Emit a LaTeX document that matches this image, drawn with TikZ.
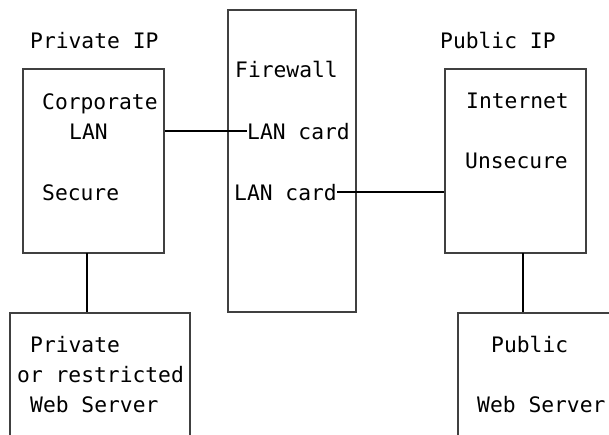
\documentclass[tikz,border=0pt]{standalone}
\usepackage{fontspec}
\setmainfont{DejaVu Sans Mono}
\usetikzlibrary{calc}

\begin{document}
\begin{tikzpicture}[x=1pt, y=-1pt,
        box/.style={draw=black!75, line width=2pt, inner sep=0pt},
        lbl/.style={anchor=base west, inner sep=0pt,
            font=\fontsize{21.3}{24}\selectfont},
        wire/.style={draw, line width=1.2pt}]
            \useasboundingbox (0, 0) rectangle (609, 434);
            \clip (0, 0) rectangle (609, 434);

            % boxes
            \node[box, minimum width=141, minimum height=184] (corp) at (93.5, 161) {};
            \node[box, minimum width=128, minimum height=302] (fw) at (292, 161) {};
            \node[box, minimum width=141, minimum height=184] (inet) at (515.5, 161) {};
            \node[box, minimum width=180, minimum height=150] (privweb) at (100, 388) {};
            \node[box, minimum width=182, minimum height=150] (pubweb) at (549, 388) {};

            % texts
            \node[lbl] (privip) at (30, 48) {Private IP};
            \node[lbl] (pubip) at (440, 48) {Public IP};
            \node[lbl] (corptxt) at (42, 109) {Corporate};
            \node[lbl] (lantxt) at (69, 139) {LAN};
            \node[lbl] (sectxt) at (42, 200) {Secure};
            \node[lbl] (fwtxt) at (235, 77) {Firewall};
            \node[lbl] (lan1) at (247, 139) {LAN card};
            \node[lbl] (lan2) at (234, 200) {LAN card};
            \node[lbl] (inettxt) at (466, 108) {Internet};
            \node[lbl] (unsectxt) at (465, 168) {Unsecure};
            \node[lbl] (privtxt) at (30, 352) {Private};
            \node[lbl] (restxt) at (17, 382) {or restricted};
            \node[lbl] (web1) at (30, 412) {Web Server};
            \node[lbl] (pubtxt) at (491, 352) {Public};
            \node[lbl] (web2) at (477, 412) {Web Server};

            \coordinate (corpdown) at (87, 253);
            \coordinate (inetdown) at (523, 253);

            % connectors
            \draw[wire] (corp.east |- 0, 131) -- (lan1.west |- 0, 131);
            \draw[wire] (lan2.east |- 0, 192) -- (inet.west |- 0, 192);
            \draw[wire] (corpdown) -- (corpdown |- privweb.north);
            \draw[wire] (inetdown) -- (inetdown |- pubweb.north);
        \end{tikzpicture}
\end{document}
